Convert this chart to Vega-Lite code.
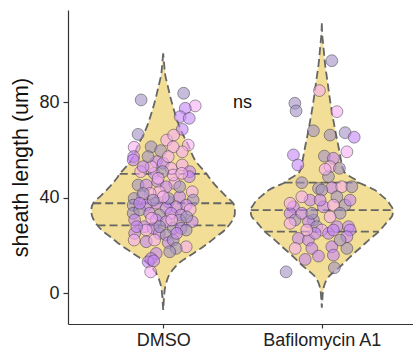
{
  "$schema": "https://vega.github.io/schema/vega-lite/v6.json",
  "autosize": "none",
  "width": 349,
  "height": 314,
  "padding": {"left": 68, "top": 10, "right": 0, "bottom": 31},
  "background": "white",
  "config": {
    "view": {"stroke": null},
    "font": "Liberation Sans",
    "axis": {
      "grid": false,
      "domainColor": "#333333",
      "domainWidth": 1.2,
      "tickColor": "#333333",
      "tickWidth": 1.2,
      "tickSize": 5,
      "labelFont": "Liberation Sans",
      "labelFontSize": 18,
      "labelColor": "#222222",
      "titleFont": "Liberation Sans",
      "titleFontSize": 21.5,
      "titleFontWeight": "normal",
      "titleColor": "#111111"
    }
  },
  "datasets": {
    "violin": [
      {"group": "DMSO", "y": -7, "lo": 1, "hi": 1},
      {"group": "DMSO", "y": -4, "lo": 0.997, "hi": 1.003},
      {"group": "DMSO", "y": -1, "lo": 0.994, "hi": 1.006},
      {"group": "DMSO", "y": 2.8, "lo": 0.987, "hi": 1.013},
      {"group": "DMSO", "y": 5, "lo": 0.978, "hi": 1.022},
      {"group": "DMSO", "y": 6.9, "lo": 0.968, "hi": 1.032},
      {"group": "DMSO", "y": 9, "lo": 0.95, "hi": 1.05},
      {"group": "DMSO", "y": 11.1, "lo": 0.924, "hi": 1.076},
      {"group": "DMSO", "y": 13.2, "lo": 0.89, "hi": 1.11},
      {"group": "DMSO", "y": 15.3, "lo": 0.842, "hi": 1.158},
      {"group": "DMSO", "y": 17.4, "lo": 0.795, "hi": 1.205},
      {"group": "DMSO", "y": 19.5, "lo": 0.748, "hi": 1.252},
      {"group": "DMSO", "y": 21.6, "lo": 0.705, "hi": 1.295},
      {"group": "DMSO", "y": 23.7, "lo": 0.666, "hi": 1.334},
      {"group": "DMSO", "y": 26, "lo": 0.62, "hi": 1.38},
      {"group": "DMSO", "y": 28.6, "lo": 0.584, "hi": 1.416},
      {"group": "DMSO", "y": 31, "lo": 0.56, "hi": 1.44},
      {"group": "DMSO", "y": 33.5, "lo": 0.548, "hi": 1.452},
      {"group": "DMSO", "y": 35.5, "lo": 0.548, "hi": 1.452},
      {"group": "DMSO", "y": 37.7, "lo": 0.559, "hi": 1.441},
      {"group": "DMSO", "y": 41, "lo": 0.61, "hi": 1.39},
      {"group": "DMSO", "y": 45.3, "lo": 0.672, "hi": 1.328},
      {"group": "DMSO", "y": 47.5, "lo": 0.7, "hi": 1.3},
      {"group": "DMSO", "y": 50.2, "lo": 0.729, "hi": 1.271},
      {"group": "DMSO", "y": 55, "lo": 0.792, "hi": 1.208},
      {"group": "DMSO", "y": 62, "lo": 0.842, "hi": 1.158},
      {"group": "DMSO", "y": 69, "lo": 0.893, "hi": 1.107},
      {"group": "DMSO", "y": 76, "lo": 0.929, "hi": 1.071},
      {"group": "DMSO", "y": 83, "lo": 0.958, "hi": 1.042},
      {"group": "DMSO", "y": 87, "lo": 0.972, "hi": 1.028},
      {"group": "DMSO", "y": 91.3, "lo": 0.987, "hi": 1.013},
      {"group": "DMSO", "y": 96, "lo": 0.994, "hi": 1.006},
      {"group": "DMSO", "y": 100.4, "lo": 1, "hi": 1},
      {"group": "Baf", "y": -6, "lo": 2, "hi": 2},
      {"group": "Baf", "y": -3, "lo": 1.997, "hi": 2.003},
      {"group": "Baf", "y": 0, "lo": 1.994, "hi": 2.006},
      {"group": "Baf", "y": 2.8, "lo": 1.987, "hi": 2.013},
      {"group": "Baf", "y": 5, "lo": 1.975, "hi": 2.025},
      {"group": "Baf", "y": 6.9, "lo": 1.958, "hi": 2.042},
      {"group": "Baf", "y": 9, "lo": 1.925, "hi": 2.075},
      {"group": "Baf", "y": 11.1, "lo": 1.887, "hi": 2.113},
      {"group": "Baf", "y": 13.9, "lo": 1.842, "hi": 2.158},
      {"group": "Baf", "y": 16.7, "lo": 1.798, "hi": 2.202},
      {"group": "Baf", "y": 19.5, "lo": 1.75, "hi": 2.25},
      {"group": "Baf", "y": 22.3, "lo": 1.704, "hi": 2.296},
      {"group": "Baf", "y": 25.8, "lo": 1.641, "hi": 2.359},
      {"group": "Baf", "y": 29.3, "lo": 1.596, "hi": 2.404},
      {"group": "Baf", "y": 32.8, "lo": 1.554, "hi": 2.446},
      {"group": "Baf", "y": 34.9, "lo": 1.552, "hi": 2.448},
      {"group": "Baf", "y": 37, "lo": 1.568, "hi": 2.432},
      {"group": "Baf", "y": 39, "lo": 1.59, "hi": 2.41},
      {"group": "Baf", "y": 41, "lo": 1.625, "hi": 2.375},
      {"group": "Baf", "y": 43.2, "lo": 1.666, "hi": 2.334},
      {"group": "Baf", "y": 45, "lo": 1.72, "hi": 2.28},
      {"group": "Baf", "y": 46.3, "lo": 1.765, "hi": 2.235},
      {"group": "Baf", "y": 47.4, "lo": 1.785, "hi": 2.215},
      {"group": "Baf", "y": 49, "lo": 1.825, "hi": 2.175},
      {"group": "Baf", "y": 50.5, "lo": 1.855, "hi": 2.145},
      {"group": "Baf", "y": 52.3, "lo": 1.868, "hi": 2.132},
      {"group": "Baf", "y": 56, "lo": 1.88, "hi": 2.12},
      {"group": "Baf", "y": 60.7, "lo": 1.893, "hi": 2.107},
      {"group": "Baf", "y": 67.6, "lo": 1.914, "hi": 2.086},
      {"group": "Baf", "y": 74.6, "lo": 1.933, "hi": 2.067},
      {"group": "Baf", "y": 81.6, "lo": 1.95, "hi": 2.05},
      {"group": "Baf", "y": 88.5, "lo": 1.964, "hi": 2.036},
      {"group": "Baf", "y": 95.5, "lo": 1.979, "hi": 2.021},
      {"group": "Baf", "y": 103.9, "lo": 1.991, "hi": 2.009},
      {"group": "Baf", "y": 108, "lo": 1.997, "hi": 2.003},
      {"group": "Baf", "y": 113, "lo": 2, "hi": 2}
    ],
    "quartiles": [
      {"group": "DMSO", "q": 28.4, "lo": 0.586, "hi": 1.414},
      {"group": "DMSO", "q": 37.7, "lo": 0.559, "hi": 1.441},
      {"group": "DMSO", "q": 50, "lo": 0.726, "hi": 1.274},
      {"group": "Baf", "q": 25.8, "lo": 1.641, "hi": 2.359},
      {"group": "Baf", "q": 34.85, "lo": 1.552, "hi": 2.448},
      {"group": "Baf", "q": 46.3, "lo": 1.765, "hi": 2.235}
    ],
    "points": [
      {"group": "DMSO", "x": 0.861, "y": 80.9, "rep": "gray"},
      {"group": "DMSO", "x": 1.129, "y": 83.7, "rep": "gray"},
      {"group": "DMSO", "x": 1.202, "y": 78.4, "rep": "pink"},
      {"group": "DMSO", "x": 1.139, "y": 77.4, "rep": "purple"},
      {"group": "DMSO", "x": 1.107, "y": 73.9, "rep": "purple"},
      {"group": "DMSO", "x": 1.164, "y": 73.2, "rep": "purple"},
      {"group": "DMSO", "x": 1.12, "y": 68.6, "rep": "purple"},
      {"group": "DMSO", "x": 0.842, "y": 66.5, "rep": "gray"},
      {"group": "DMSO", "x": 1.158, "y": 62, "rep": "pink"},
      {"group": "DMSO", "x": 1.022, "y": 64.1, "rep": "pink"},
      {"group": "DMSO", "x": 1.066, "y": 66.2, "rep": "pink"},
      {"group": "DMSO", "x": 0.817, "y": 61.1, "rep": "pink"},
      {"group": "DMSO", "x": 0.814, "y": 57.2, "rep": "purple"},
      {"group": "DMSO", "x": 0.811, "y": 55.8, "rep": "purple"},
      {"group": "DMSO", "x": 0.924, "y": 61.3, "rep": "gray"},
      {"group": "DMSO", "x": 0.984, "y": 59.7, "rep": "gray"},
      {"group": "DMSO", "x": 1.12, "y": 59.2, "rep": "pink"},
      {"group": "DMSO", "x": 1.063, "y": 61.3, "rep": "pink"},
      {"group": "DMSO", "x": 1.12, "y": 53.7, "rep": "pink"},
      {"group": "DMSO", "x": 0.956, "y": 55.1, "rep": "purple"},
      {"group": "DMSO", "x": 1.0, "y": 54.4, "rep": "purple"},
      {"group": "DMSO", "x": 1.05, "y": 52.3, "rep": "pink"},
      {"group": "DMSO", "x": 1.167, "y": 50.9, "rep": "purple"},
      {"group": "DMSO", "x": 0.858, "y": 50.9, "rep": "pink"},
      {"group": "DMSO", "x": 0.943, "y": 50.2, "rep": "purple"},
      {"group": "DMSO", "x": 1.164, "y": 48.8, "rep": "purple"},
      {"group": "DMSO", "x": 1.073, "y": 46, "rep": "pink"},
      {"group": "DMSO", "x": 0.842, "y": 45.3, "rep": "gray"},
      {"group": "DMSO", "x": 0.893, "y": 45.3, "rep": "purple"},
      {"group": "DMSO", "x": 0.965, "y": 46.7, "rep": "purple"},
      {"group": "DMSO", "x": 1.019, "y": 44.6, "rep": "purple"},
      {"group": "DMSO", "x": 1.183, "y": 42.5, "rep": "pink"},
      {"group": "DMSO", "x": 0.975, "y": 42.5, "rep": "pink"},
      {"group": "DMSO", "x": 0.918, "y": 41.8, "rep": "pink"},
      {"group": "DMSO", "x": 0.868, "y": 40.4, "rep": "pink"},
      {"group": "DMSO", "x": 0.817, "y": 39.7, "rep": "gray"},
      {"group": "DMSO", "x": 1.104, "y": 40.4, "rep": "purple"},
      {"group": "DMSO", "x": 1.189, "y": 39, "rep": "gray"},
      {"group": "DMSO", "x": 1.032, "y": 38.3, "rep": "purple"},
      {"group": "DMSO", "x": 0.956, "y": 37.7, "rep": "purple"},
      {"group": "DMSO", "x": 0.893, "y": 36.9, "rep": "purple"},
      {"group": "DMSO", "x": 0.811, "y": 36.9, "rep": "gray"},
      {"group": "DMSO", "x": 1.145, "y": 36.9, "rep": "purple"},
      {"group": "DMSO", "x": 1.17, "y": 35.1, "rep": "pink"},
      {"group": "DMSO", "x": 1.082, "y": 36.2, "rep": "purple"},
      {"group": "DMSO", "x": 1.019, "y": 35.6, "rep": "purple"},
      {"group": "DMSO", "x": 0.811, "y": 33.5, "rep": "gray"},
      {"group": "DMSO", "x": 0.852, "y": 34.9, "rep": "gray"},
      {"group": "DMSO", "x": 0.915, "y": 33.5, "rep": "purple"},
      {"group": "DMSO", "x": 0.975, "y": 32.8, "rep": "gray"},
      {"group": "DMSO", "x": 1.05, "y": 33.5, "rep": "purple"},
      {"group": "DMSO", "x": 1.113, "y": 32.8, "rep": "purple"},
      {"group": "DMSO", "x": 0.82, "y": 30.7, "rep": "purple"},
      {"group": "DMSO", "x": 0.956, "y": 30.7, "rep": "purple"},
      {"group": "DMSO", "x": 1.019, "y": 30, "rep": "purple"},
      {"group": "DMSO", "x": 1.183, "y": 30, "rep": "purple"},
      {"group": "DMSO", "x": 1.104, "y": 30.7, "rep": "gray"},
      {"group": "DMSO", "x": 0.883, "y": 27.9, "rep": "purple"},
      {"group": "DMSO", "x": 0.937, "y": 27.2, "rep": "purple"},
      {"group": "DMSO", "x": 1.063, "y": 27.2, "rep": "gray"},
      {"group": "DMSO", "x": 1.113, "y": 27.2, "rep": "purple"},
      {"group": "DMSO", "x": 1.145, "y": 26.5, "rep": "gray"},
      {"group": "DMSO", "x": 0.82, "y": 25.1, "rep": "purple"},
      {"group": "DMSO", "x": 0.893, "y": 26.5, "rep": "pink"},
      {"group": "DMSO", "x": 0.975, "y": 25.1, "rep": "purple"},
      {"group": "DMSO", "x": 0.817, "y": 22.3, "rep": "pink"},
      {"group": "DMSO", "x": 1.019, "y": 24.4, "rep": "gray"},
      {"group": "DMSO", "x": 0.893, "y": 21.6, "rep": "purple"},
      {"group": "DMSO", "x": 0.946, "y": 22.3, "rep": "pink"},
      {"group": "DMSO", "x": 1.032, "y": 21.2, "rep": "purple"},
      {"group": "DMSO", "x": 1.063, "y": 22.3, "rep": "gray"},
      {"group": "DMSO", "x": 1.145, "y": 19.5, "rep": "pink"},
      {"group": "DMSO", "x": 1.082, "y": 18.8, "rep": "gray"},
      {"group": "DMSO", "x": 1.041, "y": 17.4, "rep": "gray"},
      {"group": "DMSO", "x": 0.956, "y": 16.7, "rep": "purple"},
      {"group": "DMSO", "x": 0.924, "y": 14.6, "rep": "purple"},
      {"group": "DMSO", "x": 0.905, "y": 13.2, "rep": "purple"},
      {"group": "DMSO", "x": 0.94, "y": 13.6, "rep": "purple"},
      {"group": "DMSO", "x": 0.921, "y": 9, "rep": "pink"},
      {"group": "DMSO", "x": 1.104, "y": 44.6, "rep": "gray"},
      {"group": "DMSO", "x": 1.063, "y": 49.5, "rep": "pink"},
      {"group": "DMSO", "x": 0.924, "y": 53, "rep": "pink"},
      {"group": "DMSO", "x": 0.997, "y": 50.9, "rep": "gray"},
      {"group": "DMSO", "x": 1.032, "y": 39.7, "rep": "gray"},
      {"group": "DMSO", "x": 1.117, "y": 50.2, "rep": "pink"},
      {"group": "DMSO", "x": 0.874, "y": 41.8, "rep": "gray"},
      {"group": "DMSO", "x": 1.148, "y": 32, "rep": "gray"},
      {"group": "DMSO", "x": 0.852, "y": 37.7, "rep": "purple"},
      {"group": "DMSO", "x": 0.927, "y": 31.4, "rep": "pink"},
      {"group": "DMSO", "x": 1.054, "y": 30.7, "rep": "pink"},
      {"group": "DMSO", "x": 1.0, "y": 40.4, "rep": "pink"},
      {"group": "DMSO", "x": 0.937, "y": 39, "rep": "gray"},
      {"group": "DMSO", "x": 1.085, "y": 25.1, "rep": "purple"},
      {"group": "DMSO", "x": 0.833, "y": 27.9, "rep": "purple"},
      {"group": "DMSO", "x": 0.978, "y": 27.9, "rep": "gray"},
      {"group": "DMSO", "x": 0.968, "y": 48.1, "rep": "pink"},
      {"group": "DMSO", "x": 0.905, "y": 57.2, "rep": "gray"},
      {"group": "DMSO", "x": 1.032, "y": 57.2, "rep": "pink"},
      {"group": "DMSO", "x": 0.874, "y": 53, "rep": "purple"},
      {"group": "Baf", "x": 2.063, "y": 97.3, "rep": "gray"},
      {"group": "Baf", "x": 1.985, "y": 84.8, "rep": "pink"},
      {"group": "Baf", "x": 1.83, "y": 79.5, "rep": "gray"},
      {"group": "Baf", "x": 1.838, "y": 76.3, "rep": "gray"},
      {"group": "Baf", "x": 2.095, "y": 76, "rep": "pink"},
      {"group": "Baf", "x": 1.947, "y": 68, "rep": "gray"},
      {"group": "Baf", "x": 2.052, "y": 66.2, "rep": "gray"},
      {"group": "Baf", "x": 2.147, "y": 67.2, "rep": "gray"},
      {"group": "Baf", "x": 2.204, "y": 65.3, "rep": "purple"},
      {"group": "Baf", "x": 2.158, "y": 59.2, "rep": "pink"},
      {"group": "Baf", "x": 1.821, "y": 57.9, "rep": "purple"},
      {"group": "Baf", "x": 1.849, "y": 53.7, "rep": "purple"},
      {"group": "Baf", "x": 2.016, "y": 57.4, "rep": "gray"},
      {"group": "Baf", "x": 2.073, "y": 56.5, "rep": "purple"},
      {"group": "Baf", "x": 2.052, "y": 53, "rep": "pink"},
      {"group": "Baf", "x": 2.111, "y": 52.3, "rep": "gray"},
      {"group": "Baf", "x": 1.874, "y": 46.3, "rep": "gray"},
      {"group": "Baf", "x": 1.979, "y": 43.9, "rep": "gray"},
      {"group": "Baf", "x": 2.063, "y": 44.2, "rep": "purple"},
      {"group": "Baf", "x": 2.126, "y": 44.6, "rep": "pink"},
      {"group": "Baf", "x": 2.189, "y": 44.6, "rep": "gray"},
      {"group": "Baf", "x": 1.926, "y": 39, "rep": "purple"},
      {"group": "Baf", "x": 1.874, "y": 40.4, "rep": "pink"},
      {"group": "Baf", "x": 2.095, "y": 40.4, "rep": "gray"},
      {"group": "Baf", "x": 1.821, "y": 36.2, "rep": "purple"},
      {"group": "Baf", "x": 1.8, "y": 33.5, "rep": "purple"},
      {"group": "Baf", "x": 1.832, "y": 30.7, "rep": "gray"},
      {"group": "Baf", "x": 2.01, "y": 36.2, "rep": "purple"},
      {"group": "Baf", "x": 2.073, "y": 36.9, "rep": "pink"},
      {"group": "Baf", "x": 2.147, "y": 36.9, "rep": "gray"},
      {"group": "Baf", "x": 2.178, "y": 39, "rep": "purple"},
      {"group": "Baf", "x": 1.947, "y": 30.7, "rep": "gray"},
      {"group": "Baf", "x": 1.916, "y": 30, "rep": "purple"},
      {"group": "Baf", "x": 1.968, "y": 27.9, "rep": "gray"},
      {"group": "Baf", "x": 2.0, "y": 26.5, "rep": "pink"},
      {"group": "Baf", "x": 2.095, "y": 27.9, "rep": "purple"},
      {"group": "Baf", "x": 2.168, "y": 27.9, "rep": "purple"},
      {"group": "Baf", "x": 2.178, "y": 26.5, "rep": "purple"},
      {"group": "Baf", "x": 2.158, "y": 23.7, "rep": "purple"},
      {"group": "Baf", "x": 1.852, "y": 23, "rep": "purple"},
      {"group": "Baf", "x": 1.916, "y": 22.3, "rep": "purple"},
      {"group": "Baf", "x": 1.832, "y": 18.8, "rep": "pink"},
      {"group": "Baf", "x": 1.937, "y": 18.8, "rep": "purple"},
      {"group": "Baf", "x": 2.063, "y": 19.5, "rep": "purple"},
      {"group": "Baf", "x": 2.158, "y": 18.8, "rep": "gray"},
      {"group": "Baf", "x": 1.979, "y": 15.6, "rep": "purple"},
      {"group": "Baf", "x": 1.895, "y": 14.2, "rep": "purple"},
      {"group": "Baf", "x": 2.073, "y": 16, "rep": "purple"},
      {"group": "Baf", "x": 2.079, "y": 10.7, "rep": "gray"},
      {"group": "Baf", "x": 1.775, "y": 9, "rep": "gray"},
      {"group": "Baf", "x": 1.8, "y": 37.7, "rep": "pink"},
      {"group": "Baf", "x": 1.874, "y": 33.5, "rep": "purple"},
      {"group": "Baf", "x": 2.115, "y": 33.5, "rep": "gray"},
      {"group": "Baf", "x": 2.052, "y": 32, "rep": "pink"},
      {"group": "Baf", "x": 1.937, "y": 33.5, "rep": "gray"},
      {"group": "Baf", "x": 2.0, "y": 43.2, "rep": "gray"},
      {"group": "Baf", "x": 2.115, "y": 22.3, "rep": "gray"},
      {"group": "Baf", "x": 2.042, "y": 25.1, "rep": "purple"},
      {"group": "Baf", "x": 2.042, "y": 48.8, "rep": "gray"},
      {"group": "Baf", "x": 2.021, "y": 51.9, "rep": "pink"},
      {"group": "Baf", "x": 1.8, "y": 29.3, "rep": "pink"},
      {"group": "Baf", "x": 1.989, "y": 39, "rep": "purple"},
      {"group": "Baf", "x": 2.073, "y": 26.5, "rep": "purple"},
      {"group": "Baf", "x": 1.958, "y": 25.1, "rep": "purple"},
      {"group": "Baf", "x": 1.905, "y": 26.5, "rep": "pink"}
    ],
    "label": [
      {"x": 1.5, "y": 79.5, "text": "ns"}
    ]
  },
  "layer": [
    {
      "data": {"name": "violin"},
      "mark": {
        "type": "area",
        "orient": "horizontal",
        "interpolate": "monotone",
        "fill": "#f2de96",
        "fillOpacity": 1,
        "stroke": "#666666",
        "strokeWidth": 1.8,
        "strokeDash": [8, 4]
      },
      "encoding": {
        "y": {"field": "y", "type": "quantitative", "scale": {"domain": [-12.8, 118.5], "nice": false, "zero": false}, "axis": {"values": [0, 40, 80], "labelPadding": 4, "titlePadding": 6}, "title": "sheath length (um)"},
        "x": {"field": "lo", "type": "quantitative", "scale": {"domain": [0.4, 2.6], "nice": false, "zero": false}, "axis": {"values": [1, 2], "labelExpr": "datum.value == 1 ? 'DMSO' : 'Bafilomycin A1'", "labelPadding": 3, "tickSize": 4}, "title": null},
        "x2": {"field": "hi"},
        "detail": {"field": "group"}
      }
    },
    {
      "data": {"name": "quartiles"},
      "mark": {"type": "rule", "stroke": "#666666", "strokeWidth": 1.8, "strokeDash": [8, 4]},
      "encoding": {
        "y": {"field": "q", "type": "quantitative", "title": "sheath length (um)"},
        "x": {"field": "lo", "type": "quantitative", "title": null},
        "x2": {"field": "hi"}
      }
    },
    {
      "data": {"name": "points"},
      "mark": {"type": "circle", "size": 140, "fillOpacity": 0.6, "stroke": "#333333", "strokeOpacity": 0.6, "strokeWidth": 0.8},
      "encoding": {
        "x": {"field": "x", "type": "quantitative", "title": null},
        "y": {"field": "y", "type": "quantitative", "title": "sheath length (um)"},
        "fill": {"field": "rep", "type": "nominal", "scale": {"domain": ["pink", "purple", "gray"], "range": ["#f7aef5", "#c486f6", "#a290c4"]}, "legend": null}
      }
    },
    {
      "data": {"name": "label"},
      "mark": {"type": "text", "fontSize": 18, "font": "Liberation Sans", "color": "#111111", "baseline": "middle", "align": "center"},
      "encoding": {
        "x": {"field": "x", "type": "quantitative", "title": null},
        "y": {"field": "y", "type": "quantitative", "title": "sheath length (um)"},
        "text": {"field": "text"}
      }
    }
  ]
}
